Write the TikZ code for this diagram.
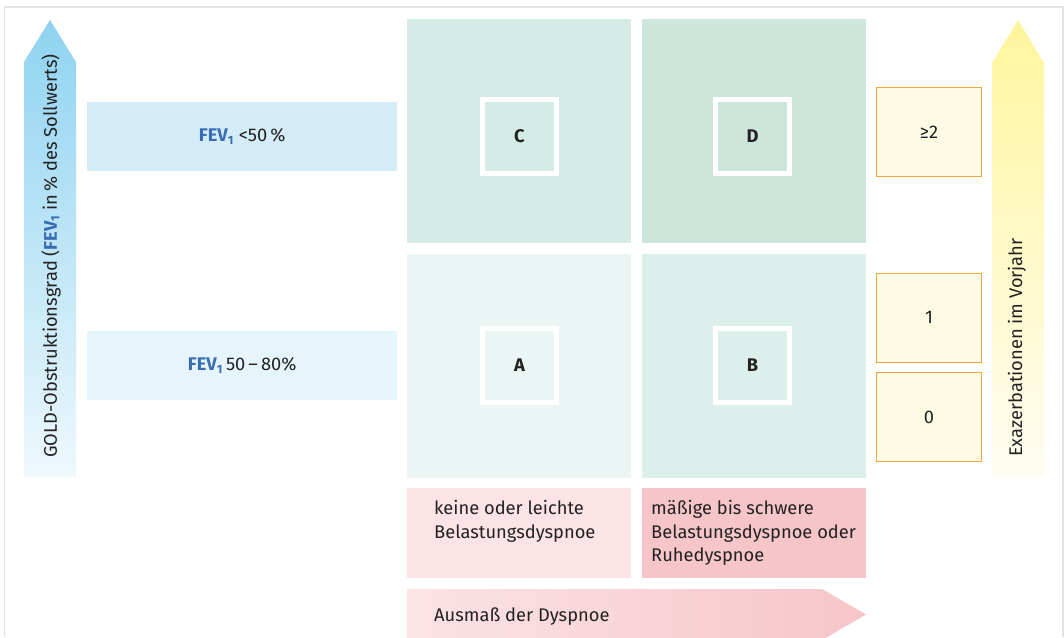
\documentclass[tikz,border=0pt]{standalone}
\usepackage{fontspec}
\setmainfont{Fira Sans}
\usetikzlibrary{positioning}
\definecolor{fevblue}{HTML}{3A6CB4}
\definecolor{cellC}{HTML}{D5EBE5}
\definecolor{cellD}{HTML}{CCE6DB}
\definecolor{cellA}{HTML}{EAF5F4}
\definecolor{cellB}{HTML}{DDEFEB}
\definecolor{pinkL}{HTML}{FBE3E6}
\definecolor{pinkR}{HTML}{F6C5C9}
\definecolor{fevtop}{HTML}{D3ECF8}
\definecolor{fevbot}{HTML}{E6F5FC}
\definecolor{oboxfill}{HTML}{FEFBE5}
\definecolor{oboxline}{HTML}{F5A540}
\definecolor{framegray}{HTML}{E2E2E2}
\definecolor{txt}{HTML}{222222}
\definecolor{blueTop}{HTML}{8FD3F0}
\definecolor{blueBot}{HTML}{EEF8FD}
\definecolor{yelTop}{HTML}{FFF59D}
\definecolor{yelBot}{HTML}{FFFDF2}
\newcommand{\fev}{\textcolor{fevblue}{\textbf{FEV\textsubscript{\fontsize{12}{12}\selectfont 1}}}}
\begin{document}
\begin{tikzpicture}[x=1pt,y=-1pt,
  every node/.style={font=\fontsize{18.3}{23.5}\selectfont, text=txt, inner sep=0pt},
  cell/.style={minimum width=224pt, minimum height=224pt, anchor=north west},
  inner/.style={draw=white, line width=5pt, minimum width=74pt, minimum height=74pt, font=\fontsize{18.3}{22}\selectfont\bfseries},
  fevbox/.style={minimum width=310pt, minimum height=69pt, anchor=north west},
  pinkbox/.style={minimum width=224pt, minimum height=90pt, anchor=north west},
  obox/.style={draw=oboxline, line width=1pt, fill=oboxfill, minimum width=105pt, minimum height=89pt, anchor=north west},
  pinktext/.style={align=left, anchor=north west}
]
\useasboundingbox (0,0) rectangle (1064,637);
\fill[white] (0,0) rectangle (1064,637);
% frame
\draw[framegray, line width=1.5pt] (4.5,637) -- (4.5,7) -- (1063,7) -- (1063,637);

% left arrow
\shade[top color=blueTop, bottom color=blueBot] (24,477) -- (24,62) -- (50,20) -- (76,62) -- (76,477) -- cycle;
\node[rotate=90, anchor=west] (ltext) at (51,458) {GOLD-Obstruktionsgrad (\fev{} in\,\% des Sollwerts)};

% right arrow
\shade[top color=yelTop, bottom color=yelBot] (992,477) -- (992,63) -- (1018,20) -- (1044,63) -- (1044,477) -- cycle;
\node[rotate=90, anchor=west] (rtext) at (1017,457) {Exazerbationen im Vorjahr};

% FEV boxes
\node[fevbox, fill=fevtop] (f50) at (87,102) {};
\node at (f50.center) {\fev{} <50\,\%};
\node[fevbox, fill=fevbot] (f80) at (87,331) {};
\node at (f80.center) {\fev{}\,50\,–\,80\%};

% cells
\node[cell, fill=cellC] (C) at (407,19) {};
\node[cell, fill=cellD] (D) at (642,19) {};
\node[cell, fill=cellA] (A) at (407,254) {};
\node[cell, fill=cellB] (B) at (642,254) {};
\node[inner, fill=cellC] (Ci) at (519.5,136.5) {C};
\node[inner, fill=cellD] (Di) at (752.5,136.5) {D};
\node[inner, fill=cellA] (Ai) at (519.5,365.5) {A};
\node[inner, fill=cellB] (Bi) at (752.5,365.5) {B};

% orange boxes
\node[obox] (o2) at (876,87) {};
\node at (o2.center) {≥2};
\node[obox] (o1) at (876,272.5) {};
\node at (o1.center) {1};
\node[obox] (o0) at (876,372) {};
\node at (o0.center) {0};

% pink boxes
\node[pinkbox, fill=pinkL] (pl) at (407,488) {};
\node[pinktext] at (434,500.5) {keine oder leichte\\Belastungsdyspnoe};
\node[pinkbox, fill=pinkR] (pr) at (642,488) {};
\node[pinktext] at (651,500.5) {mäßige bis schwere\\Belastungsdyspnoe oder\\Ruhedyspnoe};

% bottom arrow
\shade[left color=pinkL, right color=pinkR] (407,589) -- (822,589) -- (866,614.5) -- (822,640) -- (407,640) -- cycle;
\node[anchor=base west] (dys) at (434,621.5) {Ausmaß der Dyspnoe};
\end{tikzpicture}
\end{document}
